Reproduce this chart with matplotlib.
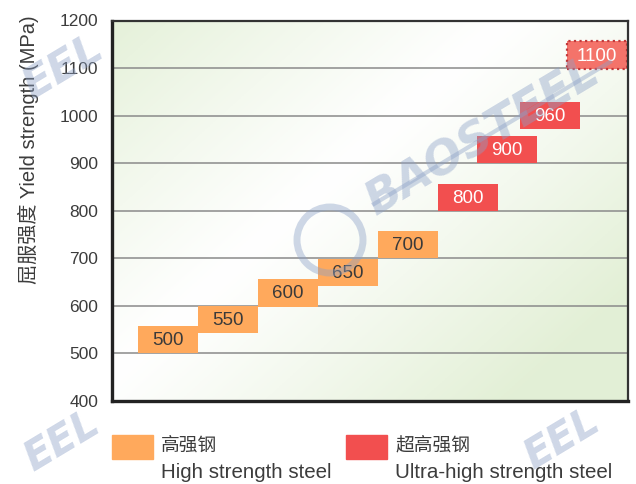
import numpy as np
import matplotlib.pyplot as plt
from matplotlib.patches import Rectangle, Ellipse
from matplotlib.lines import Line2D

plt.rcParams['font.family'] = ['Liberation Sans', 'Noto Sans CJK SC', 'DejaVu Sans']

# grades (MPa) and where each box sits
grades = [500, 550, 600, 650, 700, 800, 900, 960, 1100]
box_low = [500, 542, 598, 641, 700, 799, 900, 971, 1098]
box_pos = [1, 2, 3, 4, 5, 6, 6.65, 7.37, 8.15]
group = ["high", "high", "high", "high", "high", "ultra", "ultra", "ultra", "planned"]

y_ticks = [400, 500, 600, 700, 800, 900, 1000, 1100, 1200]
legend_cn = ["高强钢", "超高强钢"]
legend_en = ["High strength steel", "Ultra-high strength steel"]

orange = "#FFA95C"
red = "#F24F4F"
light_red = "#F4736A"
txt = "#3c3c3c"
wm = (0.55, 0.63, 0.78, 0.42)

W, H = 636, 484
fig = plt.figure(figsize=(6.36, 4.84), dpi=100)
ax = fig.add_axes([112/W, 1 - 401/H, 516/W, 380.5/H])
ax.set_xlim(0.067, 8.667)
ax.set_ylim(400, 1200)

# soft green/white diagonal background
nx, ny = 200, 150
u = np.linspace(0, 1, nx)[None, :]
w = np.linspace(0, 1, ny)[:, None]
s = 0.55 * u + 0.45 * w
k = np.clip(np.abs(s - 0.42) / 0.45, 0, 1) ** 1.1
green = np.array([0.89, 0.94, 0.84])
img = 1 - k[..., None] * (1 - green)
ax.imshow(img, extent=[0.067, 8.667, 400, 1200], aspect="auto", zorder=0)

for t in y_ticks[1:-1]:
    ax.axhline(t, color="#8a8a8a", lw=1.1, zorder=1)

bh = 58
for g, lo, x, kind in zip(grades, box_low, box_pos, group):
    if kind == "high":
        tc = "#3a3a3a"
        ax.bar(x, bh, bottom=lo, width=1.0, color=orange, zorder=2)
    elif kind == "ultra":
        tc = "white"
        ax.bar(x, bh, bottom=lo, width=1.0, color=red, zorder=2)
    else:
        tc = "white"
        ax.bar(x, bh, bottom=lo, width=1.0, color=light_red, zorder=2,
               edgecolor="#c0393b", linestyle=(0, (1, 1.5)), linewidth=1.6)
    ax.text(x, lo + bh / 2 - 2, str(g), ha="center", va="center",
            fontsize=13.5, color=tc, zorder=3)

ax.set_xticks([])
ax.set_yticks(y_ticks)
ax.set_yticklabels([str(t) for t in y_ticks], fontsize=12.5, color=txt)
ax.tick_params(axis="y", length=0, pad=10)
for side in ["left", "bottom"]:
    ax.spines[side].set_linewidth(2.4)
    ax.spines[side].set_color("#222222")
for side in ["top", "right"]:
    ax.spines[side].set_linewidth(1.6)
    ax.spines[side].set_color("#333333")

fig.text(28/W, 1 - 150/H, "屈服强度 Yield strength (MPa)", rotation=90,
         ha="center", va="center", fontsize=14.5, color=txt)

# legend
for x0, fc, cn, en in [(112, orange, legend_cn[0], legend_en[0]),
                       (346, red, legend_cn[1], legend_en[1])]:
    fig.patches.append(Rectangle((x0/W, 1 - 459/H), 41/W, 24/H,
                                 transform=fig.transFigure, color=fc))
    fig.text((x0 + 49)/W, 1 - 446/H, cn, ha="left", va="center",
             fontsize=13.5, color=txt)
    fig.text((x0 + 49)/W, 1 - 472/H, en, ha="left", va="center",
             fontsize=14.8, color=txt)

# BAOSTEEL watermark
def mark(xe, ye, word="BAOSTEEL", size=33, ring=True, line=True):
    fig.text(xe/W, 1 - ye/H, word, rotation=31, rotation_mode="anchor",
             ha="right", va="baseline", fontsize=size, fontweight="bold",
             style="italic", color=wm, family="DejaVu Sans", zorder=10)
    if line:
        fig.lines.append(Line2D([(xe - 228)/W, (xe + 8)/W],
                                [1 - (ye + 124)/H, 1 - (ye - 18)/H],
                                transform=fig.transFigure, color=wm, lw=3, zorder=10))
    if ring:
        fig.patches.append(Ellipse(((xe - 272)/W, 1 - (ye + 160)/H), 66/W, 66/H,
                                   transform=fig.transFigure, fill=False,
                                   edgecolor=wm, lw=5, zorder=10))

mark(602, 80)
mark(106, 56, word="EEL", size=31, ring=False, line=False)
mark(102, 430, word="EEL", size=29, ring=False, line=False)
mark(602, 428, word="EEL", size=29, ring=False, line=False)

fig.savefig("out.png", dpi=100)
